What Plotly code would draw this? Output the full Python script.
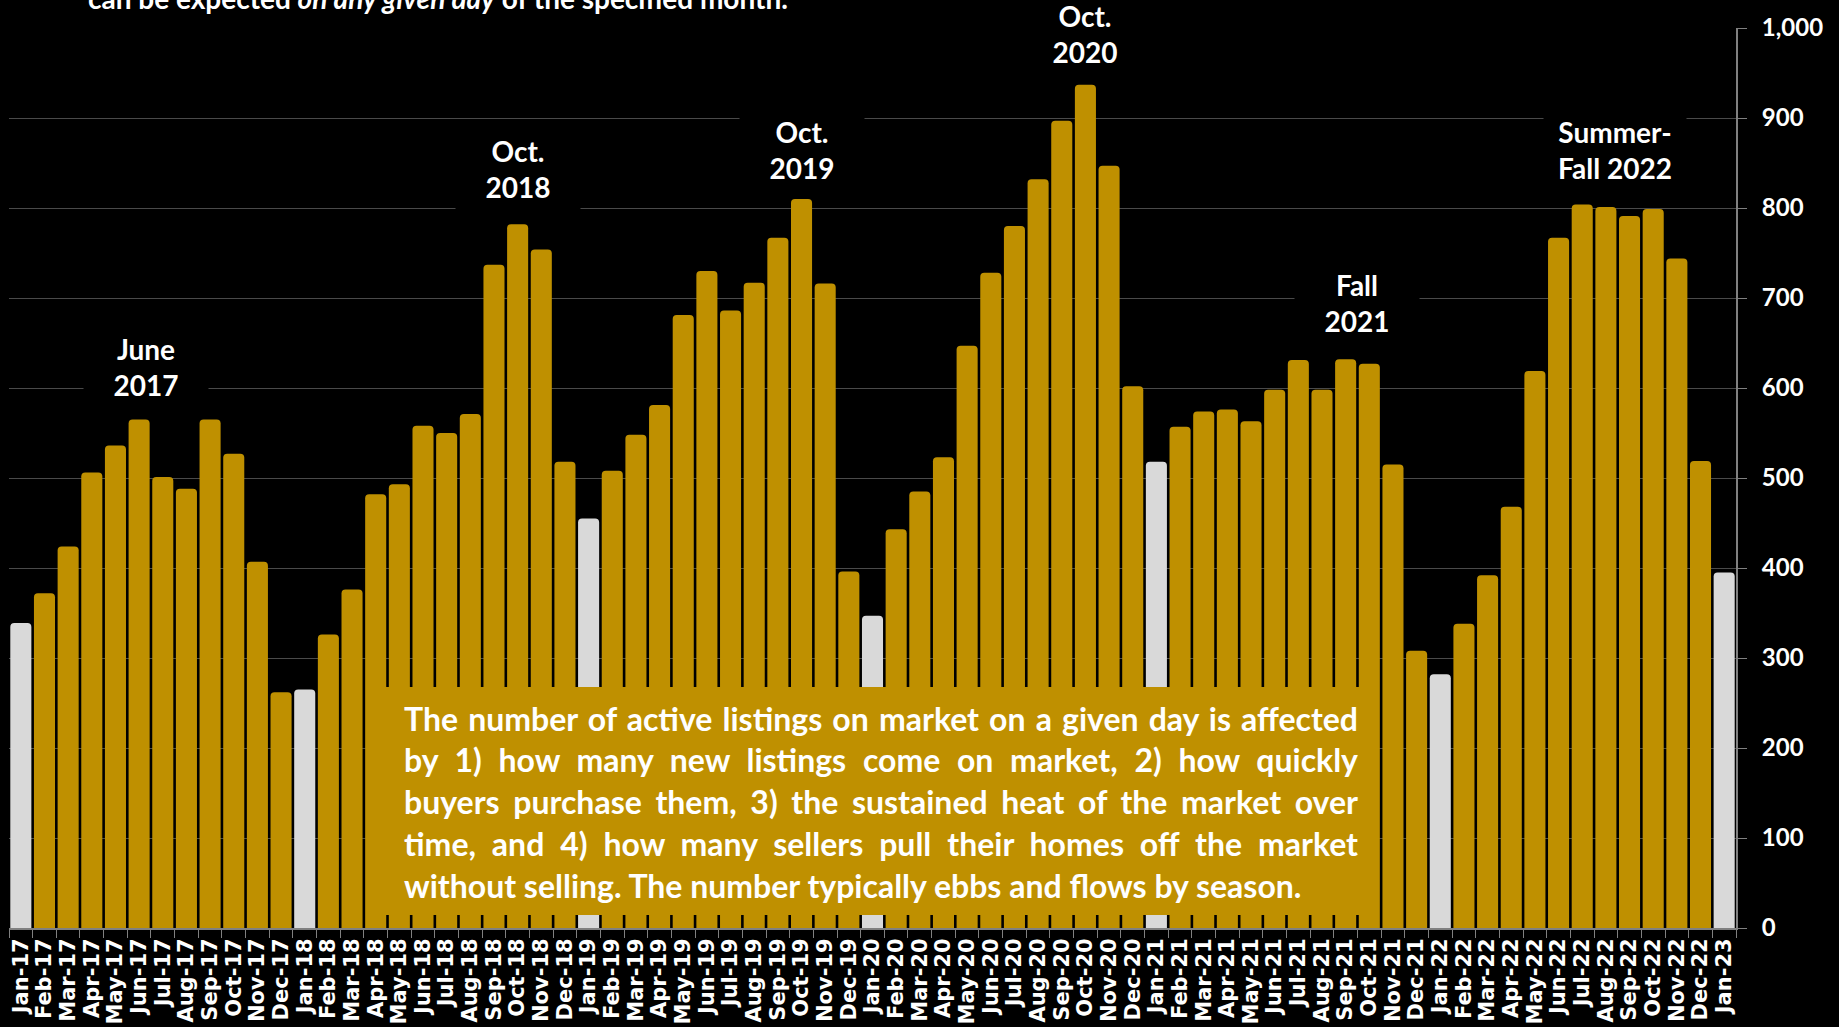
import json
import plotly.graph_objects as go

months = ["Jan", "Feb", "Mar", "Apr", "May", "Jun", "Jul", "Aug", "Sep", "Oct", "Nov", "Dec"]
years = ["17", "18", "19", "20", "21", "22"]
categories = [f"{m}-{y}" for y in years for m in months] + ["Jan-23"]

listings = [
    339, 372, 424, 506, 536, 565, 501, 488, 565, 527, 407, 262,
    265, 326, 376, 482, 493, 558, 550, 571, 737, 782, 754, 518,
    455, 508, 548, 581, 681, 730, 686, 717, 767, 810, 716, 396,
    347, 443, 485, 523, 647, 728, 780, 832, 897, 937, 847, 602,
    518, 557, 574, 576, 563, 598, 631, 598, 632, 627, 515, 308,
    282, 338, 392, 468, 619, 767, 804, 801, 791, 799, 744, 519,
    395,
]

peak_labels = ["June<br>2017", "Oct.<br>2018", "Oct.<br>2019", "Oct.<br>2020", "Fall<br>2021", "Summer-<br>Fall 2022"]
peak_x = [5.3, 21, 33, 45, 56.5, 67.4]
peak_y = [623, 843, 864, 993, 695, 864]
peak_w = [112, 112, 112, 112, 112, 130]

note_lines = [
    "The number of active listings on market on a given day is affected",
    "by 1) how many new listings come on market, 2) how quickly",
    "buyers purchase them, 3) the sustained heat of the market over",
    "time, and 4) how many sellers pull their homes off the market",
    "without selling. The number typically ebbs and flows by season.",
]

GOLD = "#BF9000"
GRAY = "#D9D9D9"
colors = [GRAY if c.startswith("Jan") else GOLD for c in categories]

fig = go.Figure()
fig.add_trace(go.Bar(
    x=categories, y=listings,
    marker=dict(color=colors, line=dict(width=0), cornerradius=4),
    width=0.89,
    hoverinfo="x+y",
))

W, H = 1839, 1027
ml, mr, mt, mb = 9, 103, 28, 99
pw = W - ml - mr
ph = H - mt - mb

annotations = []
for t, x, y, w in zip(peak_labels, peak_x, peak_y, peak_w):
    annotations.append(dict(
        x=x, y=y, xref="x", yref="y", text=t, showarrow=False,
        font=dict(family="Lato", size=28, color="white", weight="bold"),
        bgcolor="black", width=w, align="center", borderpad=6,
        xanchor="center", yanchor="middle",
    ))

box_x0 = (366 - ml) / pw
box_x1 = (1378 - ml) / pw
box_y1 = (mt + ph - 687) / ph
box_y0 = (mt + ph - 915) / ph
for i, line in enumerate(note_lines):
    ypix = 718 + i * 41.8
    annotations.append(dict(
        x=(402 - ml) / pw, y=(mt + ph - ypix) / ph, xref="paper", yref="paper",
        text=line, showarrow=False, xanchor="left", yanchor="middle",
        font=dict(family="Lato", size=32, color="white", weight="bold"),
        align="left",
    ))

annotations.append(dict(
    x=(86 - ml) / pw, y=(mt + ph + 2) / ph, xref="paper", yref="paper",
    text="can be expected <i>on any given day</i> of the specified month.",
    showarrow=False, xanchor="left", yanchor="middle",
    font=dict(family="Lato", size=28, color="white", weight="bold"),
))

fig.update_layout(
    width=W, height=H,
    margin=dict(l=ml, r=mr, t=mt, b=mb, autoexpand=False),
    paper_bgcolor="black", plot_bgcolor="black",
    showlegend=False,
    bargap=0.11,
    shapes=[dict(
        type="rect", xref="paper", yref="paper",
        x0=box_x0, x1=box_x1, y0=box_y0, y1=box_y1,
        fillcolor=GOLD, line=dict(width=0), layer="above",
    )],
    annotations=annotations,
    xaxis=dict(
        type="category", tickangle=-90, tickson="boundaries",
        tickmode="linear", tick0=0, dtick=1,
        ticks="outside", ticklen=8, tickcolor="#808080", tickwidth=1,
        showline=True, linecolor="#808080", linewidth=2,
        tickfont=dict(family="DejaVu Sans", size=21, color="white", weight="bold"),
        showgrid=False, automargin=False,
        range=[-0.5, len(categories) - 0.5],
    ),
    yaxis=dict(
        side="right", range=[0, 1000], dtick=100, tickformat=",",
        ticks="outside", ticklen=9, tickcolor="#808080",
        showline=True, linecolor="#808080", linewidth=2,
        gridcolor="#4a4a4a", gridwidth=1,
        tickfont=dict(family="Lato", size=24, color="white", weight="bold"),
        ticklabelstandoff=10,
        automargin=False, zeroline=False,
    ),
)

justify_targets = json.dumps(note_lines[:-1])
justify_width = 1356 - 402
post_js = """
document.body.style.margin = '0';
document.body.style.overflow = 'hidden';
var gd = document.getElementById('{plot_id}');
var targets = %s;
gd.querySelectorAll('text.annotation-text').forEach(function(t) {
  var s = t.textContent;
  if (targets.indexOf(s) >= 0) {
    t.style.wordSpacing = '0px';
    var L = t.getComputedTextLength();
    var n = (s.match(/ /g) || []).length;
    if (n > 0 && L < %d) { t.style.wordSpacing = ((%d - L) / n) + 'px'; }
  }
});
""" % (justify_targets, justify_width, justify_width)

fig.write_html("out.html", config={"displayModeBar": False}, post_script=post_js)
